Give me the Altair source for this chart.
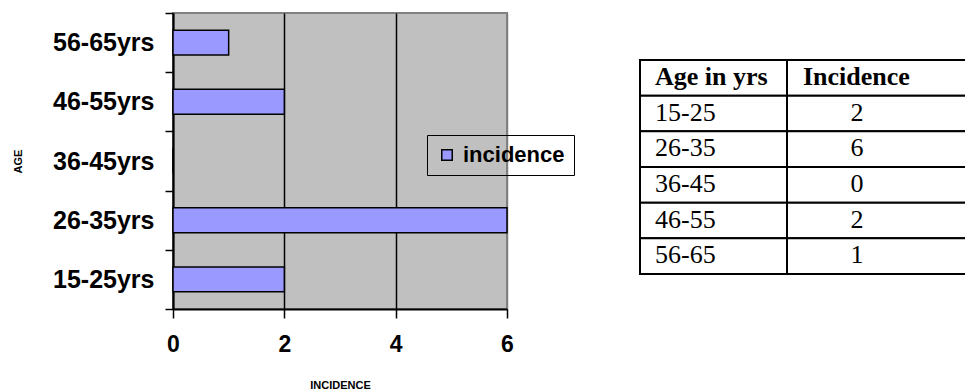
import altair as alt
import pandas as pd

# ---- data ----
age_groups = ["15-25yrs", "26-35yrs", "36-45yrs", "46-55yrs", "56-65yrs"]
incidence = [2, 6, 0, 2, 1]
series_name = "incidence"
x_ticks = [0, 2, 4, 6]

table_header = ["Age in yrs", "Incidence"]
table_ages = ["15-25", "26-35", "36-45", "46-55", "56-65"]
table_values = [2, 6, 0, 2, 1]

bar_df = pd.DataFrame({"age": age_groups, "incidence": incidence, "series": series_name})
y_order = age_groups[::-1]

rows = [str(i) for i in range(len(table_ages) + 1)]
table_df = pd.DataFrame({
    "row": rows,
    "age": [table_header[0]] + table_ages,
    "inc": [table_header[1]] + [str(v) for v in table_values],
    "header": [True] + [False] * len(table_ages),
    "c1": "c1",
    "c2": "c2",
})

SANS = "Liberation Sans"
SERIF = "Liberation Serif"

bars = alt.Chart(bar_df).mark_bar(
    stroke="black", strokeWidth=1.5, opacity=1, height=alt.RelativeBandSize(0.42)
).encode(
    x=alt.X(
        "incidence:Q",
        scale=alt.Scale(domain=[0, 6], nice=False),
        axis=alt.Axis(
            values=x_ticks, title="INCIDENCE", grid=True,
            gridColor={"condition": {"test": "datum.value === 6", "value": "#808080"}, "value": "black"},
            gridWidth=1.5, gridOpacity=1,
            domainColor="black", domainWidth=2,
            tickColor="black", tickSize=9, tickWidth=1.5,
            labelFont=SANS, labelFontWeight="bold", labelFontSize=23, labelColor="black",
            labelPadding=15, labelFlush=False,
            titleFont=SANS, titleFontWeight="bold", titleFontSize=11, titleColor="black",
            titlePadding=23,
        ),
    ),
    y=alt.Y(
        "age:N", sort=y_order,
        scale=alt.Scale(paddingInner=0, paddingOuter=0),
        axis=alt.Axis(
            title="AGE", tickBand="extent",
            domainColor="black", domainWidth=2,
            tickColor="black", tickSize=8, tickWidth=1.5,
            labelFont=SANS, labelFontWeight="bold", labelFontSize=25, labelColor="black",
            labelPadding=11,
            titleFont=SANS, titleFontWeight="bold", titleFontSize=11, titleColor="black",
            titlePadding=29,
        ),
    ),
    color=alt.Color(
        "series:N",
        scale=alt.Scale(domain=[series_name], range=["#9999FF"]),
        legend=alt.Legend(
            title=None, orient="none", legendX=254, legendY=122,
            symbolType="square", symbolSize=110, symbolStrokeColor="black",
            symbolStrokeWidth=1.5, symbolOpacity=1,
            labelFont=SANS, labelFontWeight="bold", labelFontSize=22, labelColor="black",
            labelOffset=5, padding=9, strokeColor="black",
        ),
    ),
).properties(
    width=334, height=296,
    view=alt.ViewBackground(fill="#C0C0C0", stroke="#808080", strokeWidth=2),
)

row_scale = alt.Scale(domain=rows, range=[47, 261], paddingInner=0, paddingOuter=0)

base1 = alt.Chart(table_df).encode(y=alt.Y("row:N", scale=row_scale, axis=None))
cells1 = base1.mark_rect(fill="white", stroke="black", strokeWidth=2).encode(
    x=alt.X("c1:N", scale=alt.Scale(paddingInner=0, paddingOuter=0), axis=None)
)
head1 = base1.transform_filter("datum.header").mark_text(
    align="left", baseline="middle", font=SERIF, fontSize=26, fontWeight="bold", dx=15, dy=-1, color="black"
).encode(x=alt.X("c1:N", bandPosition=0, axis=None), text="age:N")
vals1 = base1.transform_filter("!datum.header").mark_text(
    align="left", baseline="middle", font=SERIF, fontSize=26, dx=15, dy=-1, color="black"
).encode(x=alt.X("c1:N", bandPosition=0, axis=None), text="age:N")
col1 = alt.layer(cells1, head1, vals1).properties(width=147, height=296)

base2 = alt.Chart(table_df).encode(y=alt.Y("row:N", scale=row_scale, axis=None))
c2_scale = alt.Scale(range=[0, 260], paddingInner=0, paddingOuter=0)
cells2 = base2.mark_rect(fill="white", stroke="black", strokeWidth=2, clip=True).encode(
    x=alt.X("c2:N", scale=c2_scale, axis=None)
)
head2 = base2.transform_filter("datum.header").mark_text(
    align="left", baseline="middle", font=SERIF, fontSize=26, fontWeight="bold", dx=16, dy=-1, color="black"
).encode(x=alt.X("c2:N", bandPosition=0, axis=None), text="inc:N")
vals2 = base2.transform_filter("!datum.header").mark_text(
    align="center", baseline="middle", font=SERIF, fontSize=26, dx=70, dy=-1, color="black"
).encode(x=alt.X("c2:N", bandPosition=0, axis=None), text="inc:N")
col2 = alt.layer(cells2, head2, vals2).properties(width=178, height=296)

table = alt.hconcat(col1, col2, spacing=0, bounds="flush")

chart = alt.hconcat(bars, table, spacing=133, bounds="flush").properties(
    padding={"left": 11, "top": 0, "right": 0, "bottom": 0},
    background="white",
).configure_view(strokeWidth=0)

chart.save("out.html", embed_options={"renderer": "svg", "actions": False})
